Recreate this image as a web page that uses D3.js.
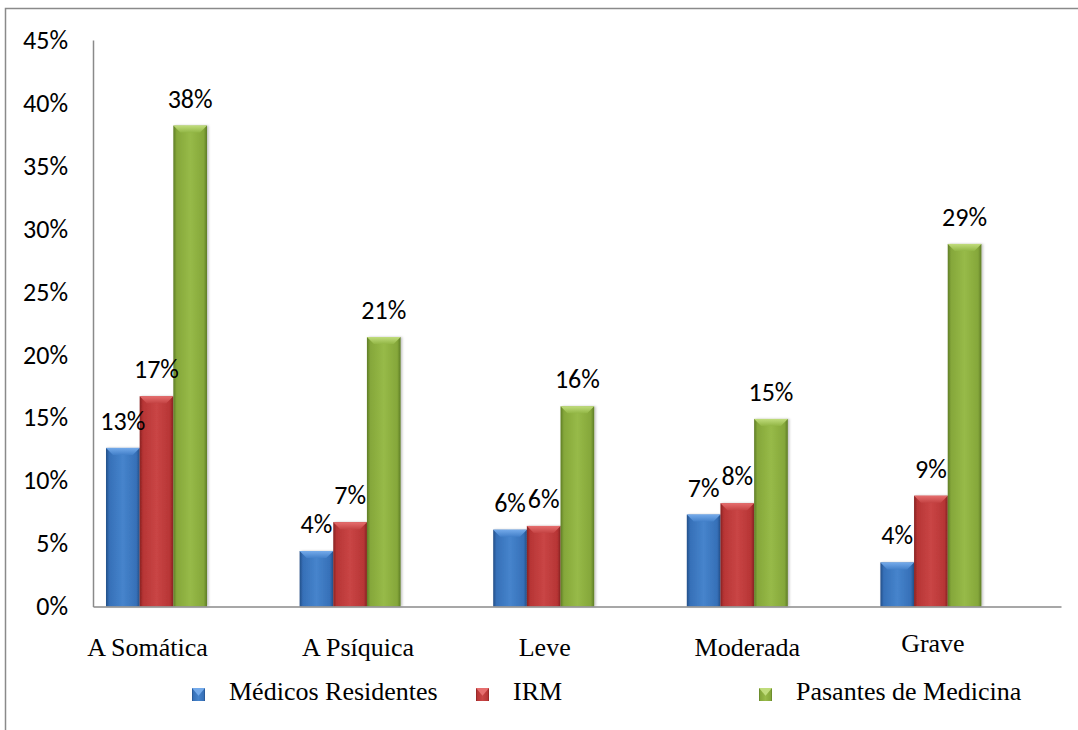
<!DOCTYPE html>
<html>
<head>
<meta charset="utf-8">
<script src="https://cdn.jsdelivr.net/npm/d3@7"></script>
<style>
  html, body { margin: 0; padding: 0; background: #fff; }
  svg { display: block; }
</style>
</head>
<body>
<svg id="chart" width="1078" height="730"></svg>
<script>
// ---- data ----
const categories = ["A Somática", "A Psíquica", "Leve", "Moderada", "Grave"];
const seriesNames = ["Médicos Residentes", "IRM", "Pasantes de Medicina"];
const medicosResidentes = [12.6, 4.4, 6.1, 7.3, 3.5];
const irm = [16.7, 6.7, 6.4, 8.2, 8.8];
const pasantesMedicina = [38.2, 21.4, 15.9, 14.9, 28.8];
const yTicks = [0, 5, 10, 15, 20, 25, 30, 35, 40, 45];

const seriesValues = [medicosResidentes, irm, pasantesMedicina];

// ---- styles / layout ----
const palette = [
  { dark: "#234f88", base: "#3670b8", light: "#4684cc", bevel: "#74aaea", bevelDark: "#4380c9" },
  { dark: "#872222", base: "#b73535", light: "#c94545", bevel: "#e66e6e", bevelDark: "#c44343" },
  { dark: "#5e7d26", base: "#85a73a", light: "#97ba48", bevel: "#c0dc7c", bevelDark: "#92b645" }
];
const labelShiftX = [-9, 8, 1, 10, 2];
const labelShiftY = [0, 0, 0, 0, -4];

const svg = d3.select("#chart");
const W = 1078, H = 730;
const plotLeft = 93, plotRight = 1061, plotTop = 40, plotBottom = 606.5;
const numFont = "Carlito, 'Open Sans', Lato, sans-serif";
const numSize = 26;
const serifFont = "'Liberation Serif', 'Times New Roman', serif";

// outer frame
svg.append("rect")
  .attr("x", 5.5).attr("y", 8.5)
  .attr("width", W + 20).attr("height", H + 20)
  .attr("fill", "none").attr("stroke", "#8a8a8a").attr("stroke-width", 1.5);

const defs = svg.append("defs");
palette.forEach((p, i) => {
  const g = defs.append("linearGradient").attr("id", "bar" + i)
    .attr("x1", 0).attr("x2", 1).attr("y1", 0).attr("y2", 0);
  [[0, p.dark], [0.1, p.base], [0.5, p.light], [0.9, p.base], [1, p.dark]]
    .forEach(([o, c]) => g.append("stop").attr("offset", o).attr("stop-color", c));
  const b = defs.append("linearGradient").attr("id", "bev" + i)
    .attr("x1", 0).attr("x2", 0).attr("y1", 0).attr("y2", 1);
  b.append("stop").attr("offset", 0).attr("stop-color", p.bevel);
  b.append("stop").attr("offset", 1).attr("stop-color", p.bevelDark);
});
const sh = defs.append("filter").attr("id", "shadow").attr("x", "-20%").attr("y", "-5%").attr("width", "140%").attr("height", "110%");
sh.append("feDropShadow").attr("dx", 1.5).attr("dy", 0).attr("stdDeviation", 1.2).attr("flood-color", "#000").attr("flood-opacity", 0.25);

// scales
const x = d3.scaleBand().domain(categories).range([plotLeft, plotRight]).padding(0);
const xs = d3.scaleBand().domain(seriesNames).range([13, 13 + 101]).padding(0);
const y = d3.scaleLinear().domain([0, 45]).range([plotBottom, plotTop]);

// y axis
const yAxis = svg.append("g").attr("transform", `translate(${plotLeft},0)`)
  .call(d3.axisLeft(y).tickValues(yTicks).tickSize(0).tickPadding(25).tickFormat(d => d + "%"));
yAxis.select(".domain").attr("stroke", "#8a8a8a").attr("stroke-width", 1.5);
yAxis.selectAll("text")
  .attr("font-family", numFont)
  .attr("font-size", numSize).attr("fill", "#000");

// bars
const rows = [];
categories.forEach((c, ci) => {
  seriesNames.forEach((s, si) => rows.push({ cat: c, ser: s, si, v: seriesValues[si][ci] }));
});

const bw = xs.bandwidth();
const bars = svg.append("g");
rows.forEach(d => {
  const bx = x(d.cat) + xs(d.ser);
  const by = y(d.v);
  const bh = plotBottom - by;
  bars.append("rect")
    .attr("x", bx).attr("y", by).attr("width", bw).attr("height", bh)
    .attr("fill", `url(#bar${d.si})`)
    .attr("filter", "url(#shadow)");
  const bev = 7;
  bars.append("polygon")
    .attr("points", [[bx, by], [bx + bw, by], [bx + bw - bev, by + bev], [bx + bev, by + bev]].map(p => p.join(",")).join(" "))
    .attr("fill", `url(#bev${d.si})`);
});
rows.forEach(d => {
  const bx = x(d.cat) + xs(d.ser);
  bars.append("text")
    .attr("x", bx + bw / 2).attr("y", y(d.v) - 18)
    .attr("text-anchor", "middle")
    .attr("font-family", numFont)
    .attr("font-size", numSize).attr("fill", "#000")
    .text(Math.round(d.v) + "%");
});

// x axis
const xAxis = svg.append("g").attr("transform", `translate(0,${plotBottom})`)
  .call(d3.axisBottom(x).tickSize(0).tickFormat(""));
xAxis.select(".domain").attr("stroke", "#8a8a8a").attr("stroke-width", 1.5);

// category labels
svg.append("g").selectAll("text").data(categories).join("text")
  .attr("x", (d, i) => x(d) + 13 + 101 / 2 + labelShiftX[i])
  .attr("y", (d, i) => 656 + labelShiftY[i])
  .attr("text-anchor", "middle")
  .attr("font-family", serifFont)
  .attr("font-size", 26).attr("fill", "#000")
  .text(d => d);

// legend
const legendX = [192, 476, 759];
const legend = svg.append("g");
seriesNames.forEach((s, i) => {
  const lx = legendX[i], ly = 688, sz = 13;
  legend.append("rect").attr("x", lx).attr("y", ly).attr("width", sz).attr("height", sz)
    .attr("fill", `url(#bar${i})`);
  legend.append("polygon")
    .attr("points", [[lx, ly], [lx + sz, ly], [lx + sz / 2, ly + sz * 0.6]].map(p => p.join(",")).join(" "))
    .attr("fill", palette[i].bevel);
  legend.append("text")
    .attr("x", lx + 37).attr("y", 700)
    .attr("font-family", serifFont)
    .attr("font-size", 26).attr("fill", "#000")
    .text(s);
});
</script>
</body>
</html>
